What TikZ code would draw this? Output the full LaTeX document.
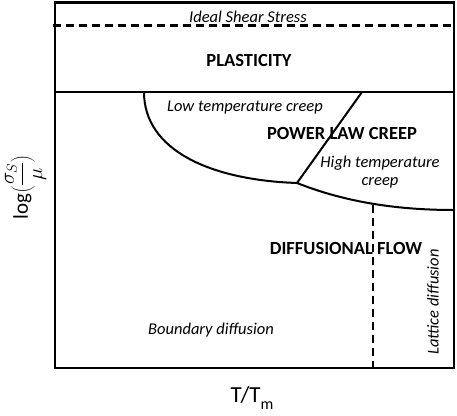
\documentclass[tikz,border=0pt]{standalone}
\usepackage{fontspec}
\setmainfont{Carlito}
\begin{document}
\begin{tikzpicture}[x=1pt,y=-1pt,
  frame/.style={line width=2.6pt},
  bound/.style={line width=2pt},
  dashb/.style={line width=2.2pt, dash pattern=on 8pt off 5pt},
  ital/.style={font=\fontsize{16.5}{18.5}\selectfont\itshape, inner sep=0pt},
  bold/.style={font=\fontsize{18.5}{20}\selectfont\bfseries, inner sep=0pt},
  axis/.style={font=\fontsize{23}{25}\selectfont, inner sep=0pt}]
\useasboundingbox (0,0) rectangle (457,415);
% frame corners
\coordinate (tl) at (54.8,2.5);
\coordinate (br) at (454,368);
\draw[frame] (tl) rectangle (br);
% dashed ideal shear
\coordinate (dsL) at (53,25.5);
\coordinate (dsR) at (454,25.5);
\draw[dashb] (dsL) -- (dsR);
% plasticity boundary
\coordinate (plL) at (54.8,92);
\coordinate (plR) at (454,92);
\draw[frame] (plL) -- (plR);
% creep boundaries
\coordinate (ltTop) at (144,92);
\coordinate (junc) at (297,183);
\coordinate (htTop) at (362,92);
\coordinate (htEnd) at (454,210);
\coordinate (ldTop) at (373,205);
\coordinate (ldBot) at (373,368);
\draw[bound] (ltTop) .. controls (144,150) and (210,180) .. (junc);
\draw[bound] (htTop) -- (junc);
\draw[bound] (junc) .. controls (340,200) and (390,210) .. (htEnd);
\draw[dashb] (ldTop) -- (ldBot);
% labels
\node[ital] (ideal) at (248,16.5) {Ideal Shear Stress};
\node[bold] (plast) at (249,60) {PLASTICITY};
\node[ital] (ltc) at (245,108) {Low temperature creep};
\node[bold] (plc) at (342,133) {POWER LAW CREEP};
\node[ital, align=center] (htc) at (380,172) {High temperature\\creep};
\node[bold] (dif) at (346,248) {DIFFUSIONAL FLOW};
\node[ital, rotate=90] (lat) at (433,302) {Lattice diffusion};
\node[ital] (bnd) at (211,330) {Boundary diffusion};
\node[axis] (xl) at (252,398) {T/T\raisebox{-0.33em}{\fontsize{16}{16}\selectfont m}};
\node[axis, rotate=90, font=\fontsize{21}{23}\selectfont] (yl) at (25.5,187) {log$\Bigg(\displaystyle\frac{\sigma_S}{\mu}\Bigg)$};
\end{tikzpicture}
\end{document}
